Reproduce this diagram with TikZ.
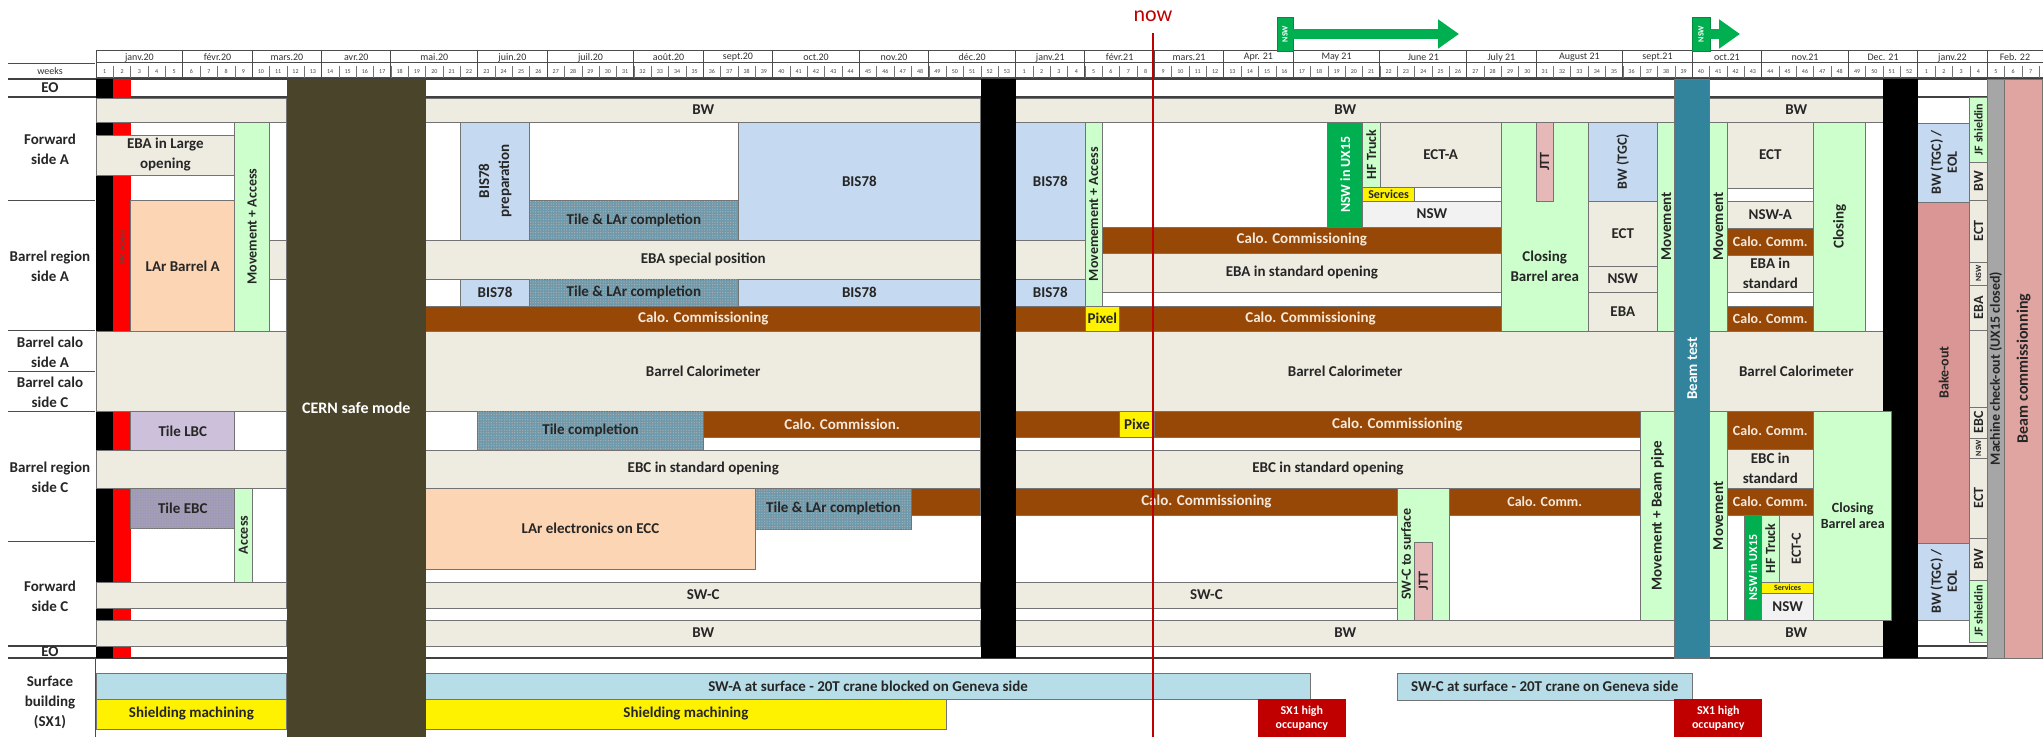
\documentclass[tikz,border=0pt]{standalone}
\usepackage{fontspec}
\setmainfont{Carlito}
\usetikzlibrary{arrows.meta,patterns.meta}

\definecolor{cTan}{HTML}{EEECE1}
\definecolor{cBis}{HTML}{C5D9F1}
\definecolor{cMove}{HTML}{CCFFCC}
\definecolor{cNsw}{HTML}{00B050}
\definecolor{cCalo}{HTML}{974706}
\definecolor{cCaloT}{HTML}{F6E9DA}
\definecolor{cTile}{HTML}{6F9AAB}
\definecolor{cLar}{HTML}{FCD5B4}
\definecolor{cLbc}{HTML}{CCC0DA}
\definecolor{cEbc}{HTML}{A39DBB}
\definecolor{cJtt}{HTML}{E6B8B7}
\definecolor{cPale}{HTML}{F2F2F2}
\definecolor{cBake}{HTML}{DA9694}
\definecolor{cBcom}{HTML}{E0A5A1}
\definecolor{cBeam}{HTML}{31849B}
\definecolor{cSafe}{HTML}{4A452A}
\definecolor{cSurf}{HTML}{B7DEE8}
\definecolor{cSx}{HTML}{C00000}
\definecolor{cGrey}{HTML}{A6A6A6}
\definecolor{cNow}{HTML}{C00000}

\newcommand\lbl{\fontsize{7.5}{10}\selectfont\bfseries}
\newcommand\slbl{\fontsize{7}{8}\selectfont\bfseries}
\newcommand\tlbl{\fontsize{6}{7}\selectfont\bfseries}
\newcommand\xlbl{\fontsize{4}{4.5}\selectfont\bfseries}

% task box: week index from/to, y from/to (px)
\newcommand\task[7][]{%
  \pgfmathsetmacro\tcx{96+17.35*((#3)+(#4))/2}%
  \pgfmathsetmacro\tcy{((#5)+(#6))/2}%
  \pgfmathsetmacro\tw{8.675*((#4)-(#3))}%
  \pgfmathsetmacro\th{0.5*((#6)-(#5))}%
  \node[task,minimum width=\tw pt,minimum height=\th pt,#1] (#2) at (\tcx,\tcy) {#7};%
}
\newcommand\vtask[7][]{%
  \pgfmathsetmacro\tcx{96+17.35*((#3)+(#4))/2}%
  \pgfmathsetmacro\tcy{((#5)+(#6))/2}%
  \pgfmathsetmacro\tw{8.675*((#4)-(#3))}%
  \pgfmathsetmacro\th{0.5*((#6)-(#5))}%
  \node[task,rotate=90,minimum width=\th pt,minimum height=\tw pt,#1] (#2) at (\tcx,\tcy) {#7};%
}

\begin{document}
\begin{tikzpicture}[x=0.5pt,y=-0.5pt,
  task/.style={draw=black!55,line width=0.4pt,fill=cTan,inner sep=0pt,align=center,font=\lbl,text=black!85},
  calo/.style={fill=cCalo,text=cCaloT},
  bis/.style={fill=cBis},
  move/.style={fill=cMove,font=\slbl},
  nswg/.style={fill=cNsw,text=white,font=\slbl},
  tile/.style={fill=cTile,postaction={pattern={Dots[distance=1.3pt,radius=0.3pt]},pattern color=white!70!black}},
  lar/.style={fill=cLar},
  lbc/.style={fill=cLbc},
  tebc/.style={fill=cEbc,postaction={pattern={Dots[distance=1.3pt,radius=0.3pt]},pattern color=white!60!black}},
  yel/.style={fill=yellow},
  jtt/.style={fill=cJtt,font=\slbl},
  pale/.style={fill=cPale},
  blank/.style={fill=white},
  bake/.style={fill=cBake,font=\slbl},
  sx/.style={fill=cSx,draw=cSx,text=white,font=\tlbl},
  surf/.style={fill=cSurf},
  safe/.style={fill=cSafe,draw=none,text=white,font=\fontsize{8}{9}\selectfont\bfseries},
  blk/.style={fill=black,draw=none},
  noacc/.style={fill=red,draw=none},
  beam/.style={fill=cBeam,text=white},
  mco/.style={fill=cGrey,font=\slbl},
  rowlbl/.style={font=\lbl,align=center,text=black!85},
  txt/.style={font=\lbl,align=center,text=black!85},
  month/.style={font=\fontsize{5}{5}\selectfont,text=black!80,inner sep=0pt},
  wknum/.style={font=\fontsize{3}{3}\selectfont,text=black!75,inner sep=0pt},
  sep/.style={draw=black!70,line width=0.5pt},
  thicksep/.style={draw=black!75,line width=1pt},
  nowline/.style={draw=cNow,line width=1.4pt},
  garrow/.style={draw=cNsw,line width=5pt,-{Triangle[length=10.5pt,width=14pt]}},
  nswflag/.style={fill=cNsw,draw=cNsw!80!black,text=white,font=\fontsize{4}{4}\selectfont\bfseries,inner sep=0pt,rotate=90}
]
\useasboundingbox (0,0) rectangle (2043,737);
\fill[white] (0,0) rectangle (2043,737);

% header
\draw[sep] (96,51) rectangle (2043,78);
\draw[sep] (96,63) -- (2043,63);
\foreach \i in {1,...,112}
  \draw[draw=black!55,line width=0.3pt] ({96+17.35*\i},66) -- ({96+17.35*\i},78);
\foreach \m in {5,9,13,17,22,26,31,35,39,44,48,53,57,61,65,69,74,79,83,88,92,96,101,105,109}
  \draw[sep] ({96+17.35*\m},51) -- ({96+17.35*\m},78);
\foreach \i in {0,...,111}{
  \pgfmathtruncatemacro\wn{\i<53 ? \i+1 : (\i<105 ? \i-52 : \i-104)}
  \node[wknum] (w\i) at ({96+17.35*(\i+0.5)},71.5) {\wn};
}
\foreach \a/\b/\t in {0/5/janv.20,5/9/févr.20,9/13/mars.20,13/17/avr.20,17/22/mai.20,
  22/26/juin.20,26/31/juil.20,31/35/août.20,35/39/sept.20,39/44/oct.20,44/48/nov.20,
  48/53/déc.20,53/57/janv.21,57/61/févr.21,61/65/mars.21,65/69/Apr. 21,69/74/May 21,
  74/79/June 21,79/83/July 21,83/88/August 21,88/92/sept.21,92/96/oct.21,96/101/nov.21,
  101/105/Dec. 21,105/109/janv.22,109/112.2/Feb. 22}
  \node[month] (m\a) at ({96+17.35*(\a+\b)/2},57.5) {\t};

% row frame
\draw[sep] (8,64) -- (95,64);
\draw[thicksep] (8,79) -- (2043,79);
\draw[thicksep] (8,97) -- (2043,97);
\foreach \yy in {200.7,331,371,411.7,541.7}
  \draw[sep] (8,\yy) -- (95,\yy);
\draw[thicksep] (8,646) -- (2043,646);
\draw[thicksep] (8,658) -- (2043,658);
\draw[sep] (95,658) -- (95,737);

\node[font=\fontsize{5}{5}\selectfont,text=black!80] (lwk) at (50,71) {weeks};
\node[rowlbl] (lEOa) at (50,88) {EO};
\node[rowlbl] (lFA) at (50,149) {Forward\\side A};
\node[rowlbl] (lBA) at (50,266) {Barrel region\\side A};
\node[rowlbl] (lCA) at (50,352) {Barrel calo\\side A};
\node[rowlbl] (lCC) at (50,392) {Barrel calo\\side C};
\node[rowlbl] (lBC) at (50,477) {Barrel region\\side C};
\node[rowlbl] (lFC) at (50,596) {Forward\\side C};
\node[rowlbl] (lEOb) at (50,652) {EO};
\node[rowlbl] (lSB) at (50,702) {Surface\\building\\(SX1)};

% no access weeks
\task[blk]{blk0}{0}{1}{79}{658}{}
\task[noacc]{noac}{1}{2}{79}{658}{}
\node[rotate=90,font=\xlbl,text=black!70] (noact) at ({96+17.35*1.5},247) {No access};

% BW side A
\task{bwa0}{0}{11}{98}{122}{}
\task{bwa1}{19}{51}{98}{122}{BW}
\task{bwa2}{53}{91}{98}{122}{BW}
\task{bwa3}{93}{103}{98}{122}{BW}

% 2020 side A
\task{ebalarge}{0}{8}{135}{175}{EBA in Large\\opening}
\task[lar]{larA}{2}{8}{200.7}{331}{LAr Barrel A}
\vtask[move]{mva}{8}{10}{122}{331}{Movement + Access}
\task[blank]{wa1}{10}{11}{122}{240}{}
\task{ebasp0}{10}{11}{240}{279}{}
\task[blank]{wa2}{10}{11}{279}{331}{}
\task[blank]{wb1}{19}{21}{122}{240}{}
\vtask[bis]{bisprep}{21}{25}{122}{240}{BIS78\\preparation}
\task[blank]{wb2}{25}{37}{122}{200.7}{}
\task[tile]{tlc1}{25}{37}{200.7}{240}{Tile \& LAr completion}
\task[bis]{bis1}{37}{51}{122}{240}{BIS78}
\task[bis]{bis2}{53}{57}{122}{240}{BIS78}
\task{ebasp1}{19}{51}{240}{279}{EBA special position}
\task{ebasp2}{53}{57}{240}{279}{}
\task[blank]{wb3}{19}{21}{279}{306}{}
\task[bis]{bis3}{21}{25}{279}{306}{BIS78}
\task[tile]{tlc2}{25}{37}{279}{306}{Tile \& LAr completion}
\task[bis]{bis4}{37}{51}{279}{306}{BIS78}
\task[bis]{bis5}{53}{57}{279}{306}{BIS78}
\task[calo]{caloA1}{19}{51}{306}{331}{Calo. Commissioning}
\task[calo]{caloA2}{53}{57}{306}{331}{}
\task[yel]{pixA}{57}{59}{306}{331}{Pixel}
\task[calo]{caloA3}{59}{81}{306}{331}{Calo. Commissioning}
\vtask[move]{mva2}{57}{58}{122}{306}{Movemement + Access}

% 2021 side A
\task[blank]{wc1}{58}{71}{122}{227}{}
\vtask[nswg]{nswux}{71}{73}{122}{227}{NSW in UX15}
\vtask[move]{hfa}{73}{74}{122}{187}{HF Truck}
\task{ecta}{74}{81}{122}{187}{ECT-A}
\task[yel,font=\tlbl]{srva}{73}{76}{187}{201}{Services}
\task[blank]{wc2}{76}{81}{187}{201}{}
\task[pale]{nswa}{73}{81}{201}{227}{NSW}
\task[calo]{caloA4}{58}{81}{227}{253}{Calo. Commissioning}
\task{ebastd}{58}{81}{253}{292}{EBA in standard opening}
\task[blank]{wc3}{58}{81}{292}{306}{}
\task[move]{closeA}{81}{86}{122}{331}{}
\node[txt] (closeAt) at ({96+17.35*83.5},266) {Closing\\Barrel area};
\vtask[jtt]{jtta}{83}{84}{122}{201}{JTT}
\vtask[bis,font=\slbl]{bwtgc}{86}{90}{122}{201}{BW (TGC)}
\task{ectb}{86}{90}{201}{266}{ECT}
\task{nswb}{86}{90}{266}{292}{NSW}
\task{ebab}{86}{90}{292}{331}{EBA}
\vtask[move,font=\lbl]{mvb}{90}{91}{122}{331}{Movement}

% Q4 2021 side A
\vtask[move,font=\lbl]{mvc}{93}{94}{122}{331}{Movement}
\task{ectc}{94}{99}{122}{188}{ECT}
\task[blank]{wd1}{94}{99}{188}{201}{}
\task{nswc}{94}{99}{201}{228}{NSW-A}
\task[calo,font=\slbl]{caloB1}{94}{99}{228}{255}{Calo. Comm.}
\task{ebain}{94}{99}{255}{292}{EBA in\\standard}
\task[blank]{wd2}{94}{99}{292}{306}{}
\task[calo,font=\slbl]{caloB2}{94}{99}{306}{331}{Calo. Comm.}
\vtask[move,font=\lbl]{closeB}{99}{102}{122}{331}{Closing}
\task[blank]{wd3}{102}{103}{122}{331}{}

% barrel calorimeter
\task{bcal0}{0}{11}{331}{411.7}{}
\task{bcal1}{19}{51}{331}{411.7}{Barrel Calorimeter}
\task{bcal2}{53}{91}{331}{411.7}{Barrel Calorimeter}
\task{bcal3}{93}{103}{331}{411.7}{Barrel Calorimeter}

% side C
\task[lbc]{tlbc}{2}{8}{411.7}{450}{Tile LBC}
\task[blank]{we1}{8}{11}{411.7}{450}{}
\task[blank]{we2}{19}{22}{411.7}{450}{}
\task[tile]{tcomp}{22}{35}{411.7}{450}{Tile completion}
\task[calo]{caloC1}{35}{51}{411.7}{437}{Calo. Commission.}
\task[blank]{we3}{35}{51}{437}{450}{}
\task[calo]{caloC2}{53}{59}{411.7}{437}{}
\task[yel]{pixC}{59}{61}{411.7}{437}{Pixe}
\task[calo]{caloC3}{61}{89}{411.7}{437}{Calo. Commissioning}
\task[blank]{we4}{53}{89}{437}{450}{}
\task{ebc0}{0}{11}{450}{488}{}
\task{ebc1}{19}{51}{450}{488}{EBC in standard opening}
\task{ebc2}{53}{89}{450}{488}{EBC in standard opening}
\vtask[move,font=\lbl]{mvbp}{89}{91}{411.7}{620}{Movement + Beam pipe}

\task[tebc]{tebc}{2}{8}{488}{528}{Tile EBC}
\vtask[move]{acc}{8}{9}{488}{582}{Access}
\task[blank]{wf1}{9}{11}{488}{582}{}
\task[lar]{larecc}{19}{38}{488}{569}{LAr electronics on ECC}
\task[tile]{tlc3}{38}{47}{488}{529}{Tile \& LAr completion}
\task[calo]{caloC4}{47}{51}{488}{515}{}
\task[calo]{caloC5}{53}{75}{488}{515}{Calo. Commissioning}
\task[move]{swcs}{75}{78}{488}{620}{}
\node[txt,rotate=90,font=\slbl] (swcst) at (1406,554) {SW-C to surface};
\vtask[jtt]{jttc}{76}{77}{542}{620}{JTT}
\task[calo,font=\slbl]{caloC6}{78}{89}{488}{515}{Calo. Comm.}

% forward side C
\task{swc0}{0}{11}{582}{608}{}
\task{swc1}{19}{51}{582}{608}{SW-C}
\task{swc2}{53}{75}{582}{608}{SW-C}
\task{bwc0}{0}{11}{620}{646}{}
\task{bwc1}{19}{51}{620}{646}{BW}
\task{bwc2}{53}{91}{620}{646}{BW}
\task{bwc3}{93}{103}{620}{646}{BW}

% Q4 2021 side C
\vtask[move,font=\lbl]{mvd}{93}{94}{411.7}{620}{Movement}
\task[calo,font=\slbl]{caloD1}{94}{99}{411.7}{449}{Calo. Comm.}
\task{ebcin}{94}{99}{449}{488}{EBC in\\standard}
\task[calo,font=\slbl]{caloD2}{94}{99}{488}{515}{Calo. Comm.}
\task[blank]{wg1}{94}{95}{515}{620}{}
\vtask[nswg,font=\tlbl]{nswux2}{95}{96}{515}{620}{NSW in UX15}
\vtask[move]{hfc}{96}{97}{515}{582}{HF Truck}
\vtask[font=\slbl]{ectcc}{97}{99}{515}{582}{ECT-C}
\task[yel,font=\xlbl]{srvc}{96}{99}{582}{593}{Services}
\task[pale]{nswd}{96}{99}{593}{620}{NSW}

% 2022
\vtask[bis,font=\slbl]{bweol1}{105}{108}{123}{202}{BW (TGC) /\\EOL}
\vtask[bake]{bake}{105}{108}{202}{543}{Bake-out}
\vtask[bis,font=\slbl]{bweol2}{105}{108}{543}{620}{BW (TGC) /\\EOL}
\vtask[move,font=\tlbl]{jf1}{108}{109}{97}{162}{JF shieldin}
\vtask[font=\slbl]{bwr1}{108}{109}{162}{200}{BW}
\vtask[font=\slbl]{ectr1}{108}{109}{200}{262}{ECT}
\vtask[font=\xlbl]{nswr1}{108}{109}{262}{285}{NSW}
\vtask[font=\slbl]{ebar}{108}{109}{285}{330}{EBA}
\vtask{blr}{108}{109}{330}{407}{}
\vtask[font=\slbl]{ebcr}{108}{109}{407}{438}{EBC}
\vtask[font=\xlbl]{nswr2}{108}{109}{438}{458}{NSW}
\vtask[font=\slbl]{ectr2}{108}{109}{458}{538}{ECT}
\vtask[font=\slbl]{bwr2}{108}{109}{538}{580}{BW}
\vtask[move,font=\tlbl]{jf2}{108}{109}{580}{642}{JF shieldin}
\vtask[mco]{mcheck}{109}{110}{79}{658}{Machine check-out (UX15 closed)}
\vtask[fill=cBcom,font=\fontsize{8}{9}\selectfont\bfseries]{bcom}{110}{112.2}{79}{658}{Beam commissionning}

% surface building
\task[surf]{swa0}{0}{11}{673}{699}{}
\task[surf]{swa1}{19}{70}{673}{699}{SW-A at surface - 20T crane blocked on Geneva side}
\task[yel]{shm0}{0}{11}{699}{729}{Shielding machining}
\task[yel]{shm1}{19}{49}{699}{729}{Shielding machining}
\task[sx]{sx1}{67}{72}{699}{737}{SX1 high\\occupancy}
\task[surf]{swcsurf}{75}{92}{673}{700}{SW-C at surface - 20T crane on Geneva side}
\task[sx]{sx2}{91}{96}{699}{737}{SX1 high\\occupancy}

% full height bars
\task[safe]{safe}{11}{19}{79}{737}{CERN safe mode}
\task[blk]{blk1}{51}{53}{79}{658}{}
\vtask[beam,font=\lbl]{beamtest}{91}{93}{79}{658}{Beam test}
\task[blk]{blk2}{103}{105}{79}{658}{}
\task[move]{closeC}{99}{103.5}{411.7}{620}{Closing\\Barrel area}

% NSW arrows
\node[nswflag,minimum width=17pt,minimum height=8pt] (flag1) at (1285,34) {NSW};
\coordinate (tip1) at (1459,34);
\draw[garrow] (flag1.south) -- (tip1);
\node[nswflag,minimum width=17pt,minimum height=9pt] (flag2) at (1701,34) {NSW};
\coordinate (tip2) at (1740,34);
\draw[garrow] (flag2.south) -- (tip2);

% now
\node[text=cNow,font=\fontsize{11}{11}\selectfont] (nowt) at (1153,16) {now};
\coordinate (nowtop) at (1153,33);
\coordinate (nowbot) at (1153,737);
\draw[nowline] (nowtop) -- (nowbot);
\end{tikzpicture}
\end{document}
